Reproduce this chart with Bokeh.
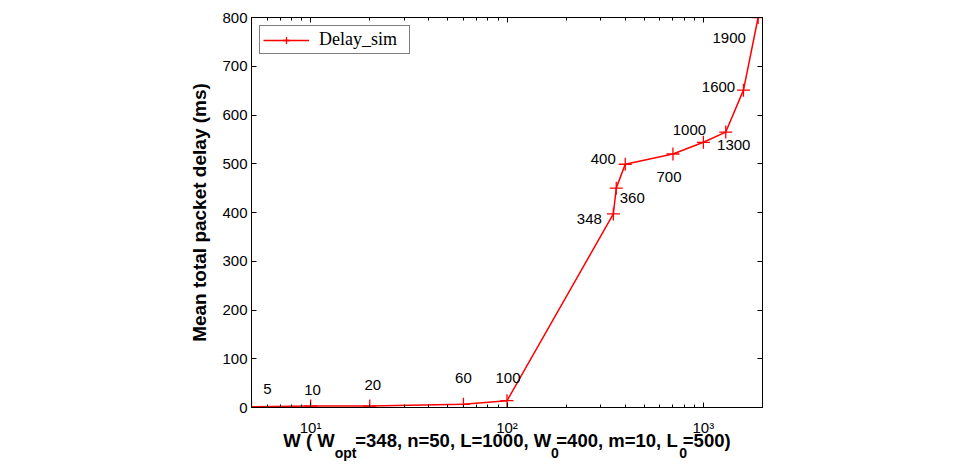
from bokeh.plotting import figure
from bokeh.models import (ColumnDataSource, LogAxis, LinearAxis, FixedTicker, LogTicker,
                          CustomJSTickFormatter, Range1d, Legend, LegendItem)
from bokeh.core.properties import value
from bokeh.embed import file_html
from bokeh.resources import INLINE

# Data
W = [5, 10, 20, 60, 100, 348, 360, 400, 700, 1000, 1300, 1600, 1900]
delay = [1.5, 3, 3, 6.5, 14, 397, 450, 499, 520, 544, 565, 651, 800]
point_labels = ["5", "10", "20", "60", "100", "348", "360", "400", "700", "1000", "1300", "1600", "1900"]
label_dx = [16, 2, 3, 0, 1, -24, 16, -22, -4, -14, 8, -25, -29]
label_dy = [-18, -16, -21, -26, -23, 5, 10, -5, 23, -12, 13, -3, 20]
y_ticks = [0, 100, 200, 300, 400, 500, 600, 700, 800]
x_min, x_max = 5, 2000
y_min, y_max = 0, 800

# x-axis title split into normal text and subscripts
x_title_parts = [("W ( W", False), ("opt", True), ("=348, n=50, L=1000, W", False), ("0", True),
                 ("=400, m=10, L", False), ("0", True), ("=500)", False)]
y_title = "Mean total packet delay (ms)"
legend_label = "Delay_sim"

FONT = "Liberation Sans"
RED = "#ff0000"
NB = "\u00a0"

# --- build the two text lines of the x title (main line + subscript line) ---
ADV = {"W": 944, " ": 278, "(": 333, ")": 333, "=": 584, ",": 278, "n": 611, "L": 611,
       "m": 889, "o": 611, "p": 611, "t": 333, NB: 278}
for d in "0123456789":
    ADV[d] = 556
MAIN_SIZE, SUB_SIZE = 18.5, 14


def width(s, size):
    return sum(ADV[c] for c in s) * size / 1000.0


main_line = ""
sub_slots = []
pos = 0.0
for txt, is_sub in x_title_parts:
    if is_sub:
        n = max(1, round(width(txt, SUB_SIZE) / width(NB, MAIN_SIZE) - 0.4))
        sub_slots.append((pos, txt))
        main_line += NB * n
        pos += n * width(NB, MAIN_SIZE)
    else:
        main_line += txt.replace(" ", NB)
        pos += width(txt, MAIN_SIZE)
total_w = pos
sub_line = ""
spos = 0.0
nb_sub = width(NB, SUB_SIZE)
for target, txt in sub_slots:
    n = max(0, round((target - spos) / nb_sub))
    sub_line += NB * n + txt
    spos += n * nb_sub + width(txt, SUB_SIZE)
sub_line += NB * max(0, round((total_w - spos) / nb_sub))

p = figure(width=964, height=464, frame_width=511, frame_height=390,
           x_axis_type="log", x_range=Range1d(x_min, x_max), y_range=Range1d(y_min, y_max),
           output_backend="svg", toolbar_location=None,
           min_border_left=251, min_border_right=202, min_border_top=17, min_border_bottom=57)
p.background_fill_color = "white"
p.border_fill_color = "white"
p.outline_line_color = "black"
p.outline_line_width = 1
p.xgrid.visible = False
p.ygrid.visible = False

sup = CustomJSTickFormatter(code="""
const s = {'0':'\\u2070','1':'\\u00b9','2':'\\u00b2','3':'\\u00b3','4':'\\u2074','5':'\\u2075','6':'\\u2076','7':'\\u2077','8':'\\u2078','9':'\\u2079'};
const e = Math.round(Math.log10(tick));
return '10' + String(e).split('').map(c => s[c]).join('');
""")
blank = CustomJSTickFormatter(code="return '';")

xa = p.xaxis[0]
xa.ticker = LogTicker(num_minor_ticks=10, mantissas=[1])
xa.formatter = sup
ya = p.yaxis[0]
ya.ticker = FixedTicker(ticks=y_ticks)

for ax in (xa, ya):
    ax.major_tick_in = 5
    ax.major_tick_out = 0
    ax.minor_tick_in = 3
    ax.minor_tick_out = 0
    ax.axis_line_color = "black"
    ax.major_tick_line_color = "black"
    ax.minor_tick_line_color = "black"
    ax.major_label_text_font = FONT
    ax.major_label_text_font_size = "15px"
    ax.major_label_text_color = "black"
    ax.axis_label_text_font = FONT
    ax.axis_label_text_font_style = "bold"
    ax.axis_label_text_color = "black"
ya.axis_label_text_font_size = "19px"
xa.axis_label_text_font_size = f"{MAIN_SIZE}px"
ya.minor_tick_line_color = None
ya.major_label_standoff = 4
xa.major_label_standoff = 11
ya.axis_label = y_title
ya.axis_label_standoff = 9
xa.axis_label = main_line
xa.axis_label_standoff = -9

# subscript line of the x title, as the label of a bare second bottom axis
sub_axis = LogAxis(ticker=LogTicker(num_minor_ticks=10, mantissas=[1]), formatter=blank,
                   axis_line_color=None, major_tick_line_color=None, minor_tick_line_color=None,
                   major_tick_in=0, major_tick_out=0, minor_tick_in=0, minor_tick_out=0,
                   major_label_text_font_size="1px", major_label_standoff=0,
                   axis_label=sub_line, axis_label_standoff=-9,
                   axis_label_text_font=FONT, axis_label_text_font_style="bold",
                   axis_label_text_font_size=f"{SUB_SIZE}px", axis_label_text_color="black")
p.add_layout(sub_axis, "below")

top = LogAxis(ticker=LogTicker(num_minor_ticks=10, mantissas=[1]), formatter=blank,
              major_tick_in=5, major_tick_out=0, minor_tick_in=3, minor_tick_out=0,
              major_label_text_font_size="1px", major_label_standoff=0)
right = LinearAxis(ticker=FixedTicker(ticks=y_ticks), formatter=blank,
                   major_tick_in=5, major_tick_out=0, minor_tick_line_color=None,
                   major_label_text_font_size="1px", major_label_standoff=0)
p.add_layout(top, "above")
p.add_layout(right, "right")

src = ColumnDataSource(dict(x=W, y=delay, lab=point_labels, dx=label_dx, dy=label_dy))
ln = p.line("x", "y", source=src, line_color=RED, line_width=1.5)
mk = p.scatter("x", "y", source=src, marker="cross", size=13, line_color=RED, line_width=1.3)
p.text("x", "y", text="lab", x_offset="dx", y_offset="dy", source=src,
       text_font=value(FONT), text_font_size="15px", text_color="black",
       text_align="center", text_baseline="middle")

legend = Legend(items=[LegendItem(label=legend_label, renderers=[ln, mk])],
                location="top_left")
legend.label_text_font = "Liberation Serif"
legend.label_text_font_size = "18px"
legend.label_text_color = "black"
legend.border_line_color = "black"
legend.border_line_width = 1
legend.background_fill_alpha = 1
legend.margin = 8
legend.padding = 3
legend.spacing = 0
legend.glyph_width = 46
legend.glyph_height = 18
legend.label_standoff = 10
legend.label_height = 18
legend.label_width = 87
p.add_layout(legend)

open("out.html", "w").write(file_html(p, INLINE))
